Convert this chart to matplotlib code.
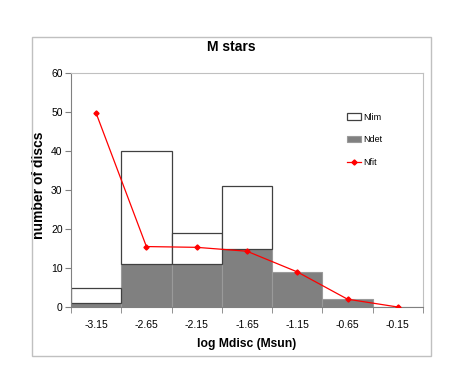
import numpy as np
import matplotlib
matplotlib.use("Agg")
import matplotlib.pyplot as plt
from matplotlib.patches import Rectangle

plt.rcParams["font.family"] = ["Liberation Sans", "DejaVu Sans"]

# Dados
bins = ["-3.15", "-2.65", "-2.15", "-1.65", "-1.15", "-0.65", "-0.15"]
n_lim = [5, 40, 19, 31, 9, 2, 0]
n_det = [1, 11, 11, 15, 9, 2, 0]
n_fit = [49.7, 15.5, 15.3, 14.3, 9.0, 2.0, 0.0]

x = np.arange(len(bins))
lim_extra = np.array(n_lim) - np.array(n_det)

fig = plt.figure(figsize=(4.63, 3.82), dpi=100)
fig.patch.set_facecolor("white")
fig.patches.append(Rectangle((0.0691, 0.0681), 0.8618, 0.835, transform=fig.transFigure,
                             fill=False, edgecolor="#c0c0c0", linewidth=1.0))

ax = fig.add_axes([0.1533, 0.1963, 0.7603, 0.6126])

ax.bar(x, n_det, width=1.0, color="#808080", edgecolor="#9a9a9a", linewidth=0.8,
       label="Ndet", zorder=2)
lim_bars = ax.bar(x, lim_extra, bottom=n_det, width=1.0, color="white",
                  edgecolor="#404040", linewidth=0.9, label="Nlim", zorder=2)
# sem contorno onde Nlim == Ndet
for b, extra in zip(lim_bars, lim_extra):
    if extra <= 0:
        b.set_visible(False)
ax.plot(x, n_fit, color="red", linewidth=0.9, marker="D", markersize=2.6,
        label="Nfit", zorder=3)

ax.set_xlim(-0.5, len(bins) - 0.5)
ax.set_ylim(0, 60)
ax.set_yticks(range(0, 61, 10))
ax.set_xticks(x)
ax.set_xticklabels(bins)
ax.set_xticks(np.arange(-0.5, len(bins)), minor=True)
ax.tick_params(axis="x", which="major", length=0, pad=9, labelsize=7.5)
ax.tick_params(axis="x", which="minor", length=4, color="#808080", direction="out")
ax.tick_params(axis="y", length=4, color="#808080", labelsize=7.5, pad=2)

for side in ["left", "bottom"]:
    ax.spines[side].set_color("#808080")
for side in ["top", "right"]:
    ax.spines[side].set_color("#c0c0c0")

ax.set_xlabel("log Mdisc (Msun)", fontsize=8.7, fontweight="bold", labelpad=6)
ax.set_ylabel("number of discs", fontsize=10, fontweight="bold")
ax.yaxis.set_label_coords(-0.072, 0.52)
fig.text(0.5, 0.878, "M stars", ha="center", va="center", fontsize=10, fontweight="bold")

h, l = ax.get_legend_handles_labels()
hd = dict(zip(l, h))
names = ["Nlim", "Ndet", "Nfit"]
ax.legend([hd[n] for n in names], names, loc="upper left",
          bbox_to_anchor=(0.76, 0.865), frameon=False, fontsize=6.5,
          handlelength=1.6, handletextpad=0.2, labelspacing=1.5)

fig.savefig("out.png", dpi=100, facecolor="white")
